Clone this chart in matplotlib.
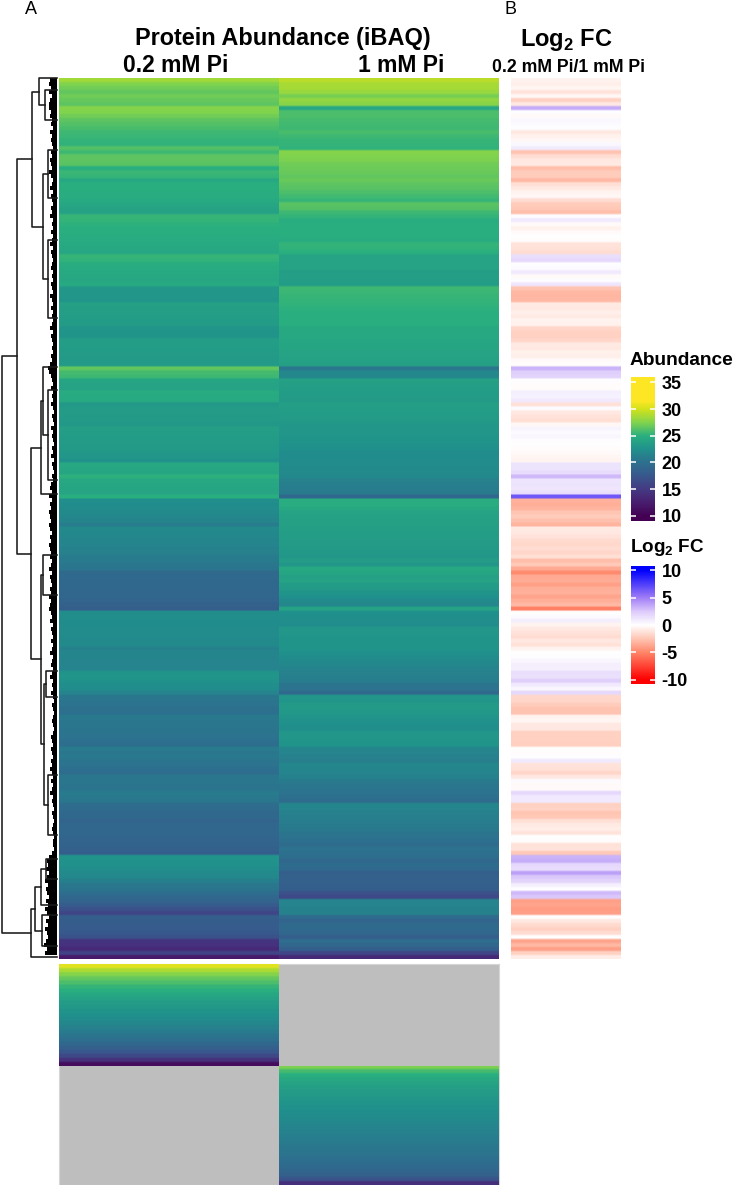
import numpy as np
import matplotlib
matplotlib.use("Agg")
import matplotlib.pyplot as plt
from matplotlib.cm import ScalarMappable
from matplotlib.colors import LinearSegmentedColormap, Normalize

plt.rcParams['font.family'] = ['Liberation Sans', 'DejaVu Sans']
plt.rcParams['mathtext.fontset'] = 'custom'
plt.rcParams['mathtext.bf'] = 'Liberation Sans:bold'
plt.rcParams['mathtext.rm'] = 'Liberation Sans:bold'

# abundance per protein row, read top to bottom
abund_low_pi = [
    28.5,27.5,27,26.6,27,26.7,26.5,27.6,27.5,27,
    26.5,26.2,25.9,25.6,25.5,25.3,25.2,26.2,25.6,26.5,
    26.5,26.4,24.9,25.5,25.4,24.4,25,25,24.8,24.8,
    24.6,24.3,24,23.9,25.4,25.3,25.1,25,24.9,24.8,
    24.7,24.6,24.4,24.3,25.4,25.2,24.8,24.7,24.6,24.4,
    24.3,24.6,23.1,23,23,22.9,23.8,23.7,23.7,23.6,
    23.5,23.4,22.9,22.8,22.8,23.6,23.6,23.5,23.4,23.3,
    23.2,23.2,26.6,25.8,25.6,24.2,24,24,24.7,24.6,
    24.6,23.1,23.4,23.4,23.3,23.2,23.1,23.7,23.6,23.5,
    23.4,23.3,23.2,23.1,23,22.7,24.4,24.3,24.2,25.1,
    24.4,24.3,24.2,24.1,25,22.3,22.2,22.1,22,21.8,
    21.7,21,22,21.9,21.8,21.7,21.6,21.4,21.3,20.9,
    20.8,20.5,20.4,19.4,19.3,19.2,19.2,19.1,19,19,
    18.8,18.5,18.2,22.3,22.3,22.2,22.2,22.1,22.1,22.1,
    22,22,21.4,21.7,21.7,21.6,21.6,21.6,22.8,22.9,
    22.7,22.4,22.2,21.6,20.6,20.4,20.2,20,19.9,20.7,
    20.6,20.5,20.4,20.3,20.2,19.9,19.8,20.9,20.5,20.7,
    20.3,20.2,19.9,19.7,20.6,20.5,20.4,20.3,20.8,20.7,
    20.5,19.7,19.5,19.2,19.1,18.8,19,19,19,18.9,
    18.8,18.7,18.5,18.3,22.8,22.7,22.6,22.3,22,21.9,
    21.2,20.6,20.4,19.8,19.2,18.8,18,17,16,18.2,
    18.1,18,17.9,17.6,17,14.5,14.3,13.6,15.8,12.2,
]
abund_high_pi = [
    29.3,28.7,28.6,28.2,27.2,28,27.7,24.3,26,26,
    25.8,25.7,25.6,25.9,25.6,25.4,25.3,25.2,27.6,27.5,
    27.3,27,26.9,26.8,26.6,26.8,26.5,26.3,26,25.7,
    25.4,26.4,26.2,25.6,25.3,24.8,24.9,25,25,24.9,
    24.7,25.3,25.2,25,24,24,24,24,23.6,23.7,
    23.6,23.5,25.6,25.5,25.4,25.3,25.2,25.1,25,25,
    24.9,24.9,24.5,24.5,24.4,24.3,24.2,24.2,24,24,
    23.9,23.8,20.5,21.8,21.8,23.8,23.7,23.6,23.5,23.4,
    23.3,23.7,23.6,23.5,23.4,23.3,23.1,23,23,22.9,
    22.8,22.7,22.5,22.2,22.2,22.1,22.1,22,22,21.9,
    21.3,21.1,21,20.9,19.2,24.8,24.8,24.5,24,23.9,
    23.8,23.8,23.7,23.6,23.6,23.4,23.4,23.2,23.1,23,
    23.4,23,24.4,24.2,23.8,24,23.5,23.2,22.8,22.5,
    22,21.8,24,22.5,22.4,22.3,22.2,23,23,22.9,
    22.8,22.8,22.8,22.5,22.2,22,21.8,21.6,21.3,21.2,
    21,20.4,20.2,19.3,23,22.9,23.3,23.2,23.1,22.9,
    22.6,22.5,22.3,23,23,22.9,22.8,21.7,21.5,21.3,
    21.1,21.8,21.7,21.6,21.4,20.8,20.6,20.4,20.2,20,
    19.5,21.7,21.6,21.3,21.1,21,20.9,20.7,20.4,20.2,
    19.9,19.5,20.2,20,19.8,19,19.6,19.3,18.3,18.5,
    18.4,18.3,18.2,17,16.2,21.6,21.5,21.4,21.4,19.5,
    18.8,19.4,19.3,19,18.2,19.7,19,18.2,16,13.5,
]
log2_fc = [
    -0.5,-0.7,-0.4,-1.2,-0.3,-2,-1,3.5,0.1,-0.2,
    0.3,0.2,0.1,-1,-0.6,-0.3,0.3,0.9,-2.6,-1.5,
    -1,-0.9,-2.8,-2.2,-2.2,-3,-1.4,-1,-0.5,-0.3,
    -1.5,-2.2,-2.4,-2.8,0.1,1,-0.2,-0.6,-0.2,0,
    -0.1,-1.2,-1.3,-1.5,1.5,1.8,0.1,0.2,1,-0.2,
    0.1,1.1,-2.6,-3,-3.1,-3,-0.9,-1,-0.7,-0.9,
    -0.5,-0.6,-1.8,-2,-2,-1.8,-0.9,-1,-0.6,-0.7,
    -0.2,-0.1,3.2,2.2,2,0.1,-0.1,-0.1,0.7,0.6,
    1,-1.3,0.2,-1,-1.2,-1.4,-0.3,0.5,0.2,0.4,
    0.1,0,-0.1,-0.2,-0.4,-0.5,1.3,1.3,1.6,3,
    1.2,1.3,1.1,1.5,6.5,-3.3,-3.4,-3.2,-2.5,-2.2,
    -2.7,-3.2,-0.9,-1,-1.2,-1.6,-1.7,-1.5,-1.8,-1.4,
    -2.8,-2.4,-3.6,-4.8,-3.6,-3.5,-4,-3.4,-3.3,-3.8,
    -3.4,-3,-5.2,0,0.2,0.8,-0.5,-1,-1.2,-1.5,
    -1,-1.3,-0.5,0,0.1,0.4,0.8,0.7,1.5,1.4,
    2.2,1,0.4,1.8,-1.7,-1.8,-2.2,-2.6,-2.6,-0.5,
    -0.4,-1,-1,-2,-2,-2,-2.1,0,-0.1,0.1,
    1,-1.2,-1.3,-1.8,-1,0.2,-0.2,-0.2,1.8,1,
    1,-2,-1.9,-2.5,-2.4,-1.4,-0.9,-0.8,-1.2,0,
    -0.1,-1.3,-1.2,-2.4,3.2,3.4,1.8,1.6,3.8,2.5,
    2,0.8,0.1,3,2.5,-4,-3.8,-4.1,-4,0,
    -1,-1.6,-2,-1.5,0,-3.8,-3,-4,-2,-0.8,
]
# proteins found in only one condition, sorted
only_low_pi = [30.5,28.8,27.6,26.7,26,25.4,24.9,24.3,23.9,23.4,23.1,22.8,22.5,
               22.1,21.8,21.3,20.9,20.4,19.9,19.2,18.4,17.5,16.2,14.2,11]
only_high_pi = [27.3,25.8,25,24.5,24,23.7,23.4,23.2,23,22.8,22.6,22.4,22.2,22,21.8,
                21.6,21.4,21.2,21,20.8,20.6,20.4,20.2,19.9,19.6,19.3,18.9,18.4,17.2,14]

# dendrogram: lowest merge distance per row, then (distance, low child, high child) with rows as leaves
leaf_depth = [
    7,8,6,8,5,7,8,8,6,7,
    5,6,4,7,5,6,5,4,6,5,
    7,6,5,8,6,4,5,7,4,6,
    5,4,6,5,7,4,5,4,6,4,
    5,7,4,6,5,4,5,6,4,5,
    4,6,5,4,7,5,4,6,4,5,
    4,5,7,4,6,5,4,5,4,6,
    5,7,9,8,6,5,4,6,4,5,
    4,6,4,3,5,4,3,6,4,5,
    4,3,5,4,6,3,5,4,3,5,
    4,6,7,5,8,5,7,6,8,7,
    6,8,7,5,7,6,8,7,6,7,
    5,6,8,5,7,6,5,7,6,8,
    6,7,8,6,5,7,4,6,5,4,
    6,4,5,7,4,5,6,4,5,7,
    4,5,4,6,4,3,5,4,3,4,
    5,4,3,4,6,5,4,6,5,4,
    6,5,7,5,4,6,4,5,7,4,
    5,4,3,5,4,3,4,5,4,3,
    4,4,3,5,8,10,9,11,8,10,
    12,9,11,10,8,11,9,12,10,8,
    11,9,12,10,9,11,13,10,12,11,
]
dend_tree = (55,
    (40.3,
        (25,
            (18, 0.1, (12, 3, 10.6)),
            (14, (9, 18, 30), (9, 40.5, 60))),
        (26.4,
            (16.3,
                (14.5, 72.2, (9, 78, 100.5)),
                104),
            (16.2,
                (14, 119, 129),
                (13.3,
                    (11, 148, 154.5),
                    (9, 174, 189))))),
    (26,
        (22,
            (16, (11, 195, 200), 206.5),
            (15, 209, 216.8)),
        219.5))

abund_ticks = [10, 15, 20, 25, 30, 35]
fc_ticks = [-10, -5, 0, 5, 10]

# colour ramps as they appear on the two legends
abund_stops = [9, 10, 12.5, 15, 17.5, 20, 22.5, 25, 27.5, 30, 31.5, 36]
abund_fracs = [0.0, 0.0, 0.08, 0.17, 0.27, 0.37, 0.5, 0.63, 0.81, 0.93, 1.0, 1.0]
fc_stops = [-10.8, -10, -5, -2.5, 0, 2.5, 5, 10, 10.8]
fc_colors = ['#ff0000', '#ff0000', '#ff8669', '#ffc6b4', '#ffffff', '#dcc9fb', '#a07df5', '#0000ff', '#0000ff']

viridis = plt.get_cmap('viridis')
abund_cmap = LinearSegmentedColormap.from_list(
    'abund', [((s - 9) / 27, viridis(f)) for s, f in zip(abund_stops, abund_fracs)], N=512)
fc_cmap = LinearSegmentedColormap.from_list(
    'fc', [((s + 10.8) / 21.6, c) for s, c in zip(fc_stops, fc_colors)], N=512)
abund_norm = Normalize(9, 36)
fc_norm = Normalize(-10.8, 10.8)

W, H = 733, 1185
fig = plt.figure(figsize=(W / 100, H / 100), dpi=100)


def px_axes(x0, y0, x1, y1):
    return fig.add_axes([x0 / W, 1 - y1 / H, (x1 - x0) / W, (y1 - y0) / H])


def column(x0, y0, x1, y1, values, cmap, norm):
    ax = px_axes(x0, y0, x1, y1)
    col = np.repeat(values, 2).reshape(-1, 1)
    ax.imshow(col, cmap=cmap, norm=norm, aspect='auto', interpolation='bilinear')
    ax.axis('off')


# main heatmap
column(59, 78, 279, 959, abund_low_pi, abund_cmap, abund_norm)
column(279, 78, 499, 959, abund_high_pi, abund_cmap, abund_norm)

# fold change strip
column(511, 78, 621, 959, log2_fc, fc_cmap, fc_norm)

# condition specific proteins, the empty halves are grey
ax = px_axes(59, 964, 499, 1185)
ax.set_facecolor('#bebebe')
ax.set_xticks([])
ax.set_yticks([])
for s in ax.spines.values():
    s.set_color('#d6d6d6')
column(59, 964, 279, 1065.5, only_low_pi, abund_cmap, abund_norm)
column(279, 1065.5, 499, 1185, only_high_pi, abund_cmap, abund_norm)

# dendrogram
ax_d = px_axes(0, 78, 57, 959)
ax_d.set_xlim(57, 0)
ax_d.set_ylim(220, 0)
ax_d.axis('off')
ax_d.fill_betweenx(np.arange(220), 0, leaf_depth, step='post', color='k', lw=0)


def draw_node(node):
    if not isinstance(node, tuple):
        return node, 0
    dist, low, high = node
    y0, d0 = draw_node(low)
    y1, d1 = draw_node(high)
    ax_d.plot([d0, dist, dist, d1], [y0, y0, y1, y1], color='#1a1a1a', lw=1.15, clip_on=False)
    return (y0 + y1) / 2, dist


draw_node(dend_tree)

# legends
tick_style = dict(direction='in', left=True, right=True, color='white', length=3.6, width=1.1,
                  labelsize=13, pad=5)
cax = px_axes(631, 377, 654.5, 521)
cb = fig.colorbar(ScalarMappable(abund_norm, abund_cmap), cax=cax, ticks=abund_ticks)
cb.outline.set_visible(False)
cax.tick_params(**tick_style)
for t in cax.get_yticklabels():
    t.set_fontweight('bold')

cax = px_axes(631, 566, 654.5, 684)
cb = fig.colorbar(ScalarMappable(fc_norm, fc_cmap), cax=cax, ticks=fc_ticks)
cb.outline.set_visible(False)
cax.tick_params(**tick_style)
cax.set_yticklabels([str(v) for v in fc_ticks])
for t in cax.get_yticklabels():
    t.set_fontweight('bold')


def label(x, y, s, size, weight='bold', ha='center'):
    fig.text(x / W, 1 - y / H, s, fontsize=size, fontweight=weight, ha=ha, va='center')


label(31, 10, 'A', 13, 'normal')
label(511, 10, 'B', 13, 'normal')
label(283, 38, 'Protein Abundance (iBAQ)', 16.9)
label(176, 66, '0.2 mM Pi', 16.5)
label(401, 66, '1 mM Pi', 16.5)
label(566, 40, r'Log$_{\mathbf{2}}$ FC', 17)
label(568, 67, '0.2 mM Pi/1 mM Pi', 12.7)
label(681, 360, 'Abundance', 13.8)
label(667, 547, r'Log$_{\mathbf{2}}$ FC', 13.6)

fig.savefig('out.png', dpi=100)
